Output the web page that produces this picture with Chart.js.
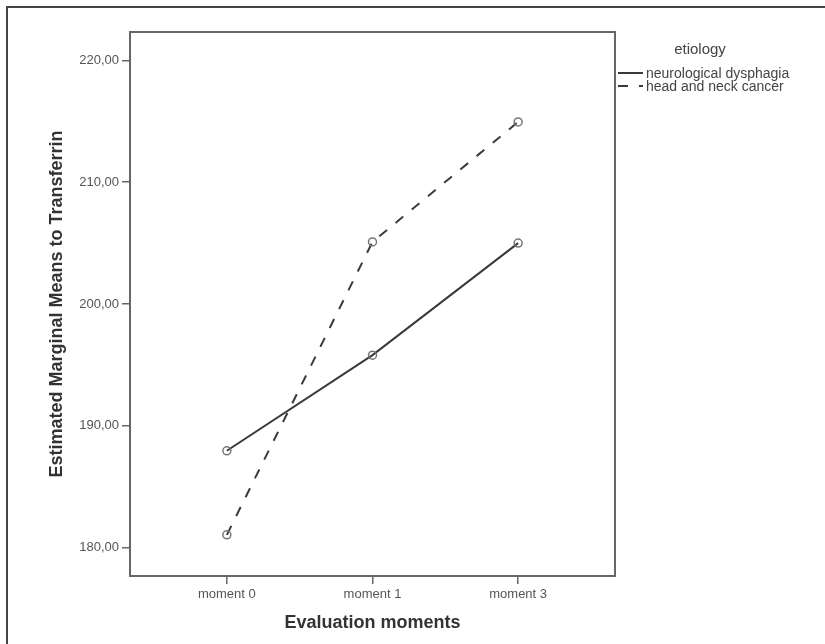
<!DOCTYPE html>
<html><head><meta charset="utf-8">
<script src="https://cdn.jsdelivr.net/npm/chart.js@4"></script>
<style>html,body{margin:0;padding:0;background:#fff}#wrap{width:825px;height:644px}</style>
</head><body><div id="wrap"><canvas id="c" width="825" height="644"></canvas></div>
<script>
const categories = ['moment 0', 'moment 1', 'moment 3'];
const neurological = [187.95, 195.8, 205.0];
const headNeck = [181.05, 205.1, 214.95];
const yTicks = [180, 190, 200, 210, 220];
const seriesNames = ['neurological dysphagia', 'head and neck cancer'];
const legendTitle = 'etiology';
const xTitle = 'Evaluation moments';
const yTitle = 'Estimated Marginal Means to Transferrin';

const FONT = "'Liberation Sans', Arial, sans-serif";

const framePlugin = {
  id: 'frame',
  beforeDraw(chart) {
    const ctx = chart.ctx;
    ctx.save();
    ctx.fillStyle = '#fff';
    ctx.fillRect(0, 0, chart.width, chart.height);
    ctx.strokeStyle = '#444';
    ctx.lineWidth = 2;
    ctx.beginPath();
    ctx.moveTo(7, chart.height);
    ctx.lineTo(7, 7);
    ctx.lineTo(chart.width, 7);
    ctx.stroke();
    ctx.restore();
  },
  beforeDatasetsDraw(chart) {
    const a = chart.chartArea, ctx = chart.ctx;
    ctx.save();
    ctx.strokeStyle = '#666';
    ctx.lineWidth = 2;
    ctx.strokeRect(a.left, a.top, a.right - a.left, a.bottom - a.top);
    ctx.restore();
  },
  afterDraw(chart) {
    const ctx = chart.ctx;
    ctx.save();
    ctx.fillStyle = '#444';
    ctx.font = '15px ' + FONT;
    ctx.textAlign = 'center';
    ctx.textBaseline = 'middle';
    ctx.fillText(legendTitle, 700, 50);
    const rows = [74, 87];
    chart.data.datasets.forEach((ds, i) => {
      const y = rows[i];
      ctx.strokeStyle = ds.borderColor;
      ctx.lineWidth = 2;
      ctx.setLineDash(ds.borderDash || []);
      ctx.beginPath();
      ctx.moveTo(618, y - 1);
      ctx.lineTo(643, y - 1);
      ctx.stroke();
      ctx.setLineDash([]);
      ctx.fillStyle = '#444';
      ctx.font = '14px ' + FONT;
      ctx.textAlign = 'left';
      ctx.fillText(ds.label, 646, y);
    });
    ctx.restore();
  }
};

new Chart(document.getElementById('c'), {
  type: 'line',
  data: {
    datasets: [
      {
        label: seriesNames[0],
        data: neurological.map((v, i) => ({x: i, y: v})),
        borderColor: '#3a3a3a',
        borderWidth: 2,
        pointRadius: 4,
        pointBorderColor: '#777',
        pointBorderWidth: 1.5,
        pointBackgroundColor: 'rgba(0,0,0,0)',
        tension: 0
      },
      {
        label: seriesNames[1],
        data: headNeck.map((v, i) => ({x: i, y: v})),
        borderColor: '#3a3a3a',
        borderWidth: 2,
        borderDash: [10, 11],
        pointRadius: 4,
        pointBorderColor: '#777',
        pointBorderWidth: 1.5,
        pointBackgroundColor: 'rgba(0,0,0,0)',
        tension: 0
      }
    ]
  },
  options: {
    responsive: false,
    animation: false,
    layout: {padding: {left: 0, top: 32, right: 210, bottom: 0}},
    plugins: {legend: {display: false}, tooltip: {enabled: false}},
    scales: {
      x: {
        type: 'linear',
        min: -0.665,
        max: 2.665,
        afterBuildTicks: s => { s.ticks = categories.map((c, i) => ({value: i})); },
        afterFit: s => { s.height = 68; },
        ticks: {
          callback: v => categories[v],
          font: {family: FONT, size: 13},
          color: '#555',
          padding: 3,
          autoSkip: false,
          maxRotation: 0
        },
        grid: {drawOnChartArea: false, drawTicks: true, tickLength: 8, color: '#666', lineWidth: 1.5},
        border: {display: false},
        title: {display: true, text: xTitle, font: {family: FONT, size: 18, weight: 'bold'}, color: '#333', padding: {top: 0, bottom: 10}}
      },
      y: {
        type: 'linear',
        min: 177.67,
        max: 222.33,
        afterBuildTicks: s => { s.ticks = yTicks.map(v => ({value: v})); },
        afterFit: s => { s.width = 130; },
        ticks: {
          callback: v => v.toFixed(2).replace('.', ','),
          font: {family: FONT, size: 13},
          color: '#555',
          padding: 3
        },
        grid: {drawOnChartArea: false, drawTicks: true, tickLength: 8, color: '#666', lineWidth: 1.5},
        border: {display: false},
        title: {display: true, text: yTitle, font: {family: FONT, size: 18, weight: 'bold'}, color: '#333', padding: {top: 46, bottom: 0}}
      }
    }
  },
  plugins: [framePlugin]
});
</script>
</body></html>
